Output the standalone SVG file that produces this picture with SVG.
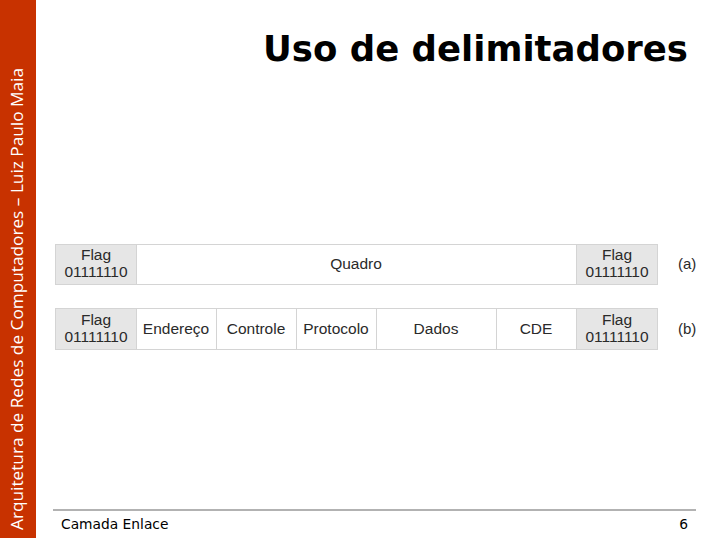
<svg xmlns="http://www.w3.org/2000/svg" width="718" height="538" viewBox="0 0 718 538">
<style>
.cell{stroke:#d4d4d4;stroke-width:1}
.flag{fill:#e6e6e6}
.plain{fill:#ffffff}
.t{font-family:"Liberation Sans",Arial,sans-serif;font-size:15.5px;fill:#2a2a2a;text-anchor:middle}
.lab{font-family:"Liberation Sans",Arial,sans-serif;font-size:15px;fill:#2a2a2a}
</style>
<rect width="718" height="538" fill="#ffffff"/>
<rect x="0" y="0" width="36" height="538" fill="#c83200"/>
<text transform="translate(23,530) rotate(-90)" font-family="'Open Sans',sans-serif" font-size="16" fill="#ffffff" textLength="462" lengthAdjust="spacingAndGlyphs">Arquitetura de Redes de Computadores – Luiz Paulo Maia</text>
<text x="688" y="61" text-anchor="end" font-family="'DejaVu Sans',Verdana,sans-serif" font-weight="bold" font-size="35.5" fill="#000">Uso de delimitadores</text>
<g id="rowA">
<g id="a-flag1"><rect class="cell flag" x="55.5" y="244.5" width="81" height="40"/><text class="t" x="96" y="260">Flag</text><text class="t" x="96" y="277">01111110</text></g>
<g id="a-quadro"><rect class="cell plain" x="136.5" y="244.5" width="440" height="40"/><text class="t" x="356" y="269">Quadro</text></g>
<g id="a-flag2"><rect class="cell flag" x="576.5" y="244.5" width="81" height="40"/><text class="t" x="617" y="260">Flag</text><text class="t" x="617" y="277">01111110</text></g>
<text class="lab" x="678" y="269">(a)</text>
</g>
<g id="rowB">
<g id="b-flag1"><rect class="cell flag" x="55.5" y="308.5" width="81" height="41"/><text class="t" x="96" y="325">Flag</text><text class="t" x="96" y="342">01111110</text></g>
<g id="b-end"><rect class="cell plain" x="136.5" y="308.5" width="80" height="41"/><text class="t" x="176" y="334">Endereço</text></g>
<g id="b-ctl"><rect class="cell plain" x="216.5" y="308.5" width="80" height="41"/><text class="t" x="256" y="334">Controle</text></g>
<g id="b-prot"><rect class="cell plain" x="296.5" y="308.5" width="80" height="41"/><text class="t" x="336" y="334">Protocolo</text></g>
<g id="b-dados"><rect class="cell plain" x="376.5" y="308.5" width="120" height="41"/><text class="t" x="436" y="334">Dados</text></g>
<g id="b-cde"><rect class="cell plain" x="496.5" y="308.5" width="80" height="41"/><text class="t" x="536" y="334">CDE</text></g>
<g id="b-flag2"><rect class="cell flag" x="576.5" y="308.5" width="81" height="41"/><text class="t" x="617" y="325">Flag</text><text class="t" x="617" y="342">01111110</text></g>
<text class="lab" x="678" y="334">(b)</text>
</g>
<g id="connectors"></g>
<line x1="53" y1="510" x2="696" y2="510" stroke="#999" stroke-width="1.5"/>
<text x="61" y="529" font-family="'DejaVu Sans',Verdana,sans-serif" font-size="13.8" fill="#000">Camada Enlace</text>
<text x="688" y="529" text-anchor="end" font-family="'DejaVu Sans',Verdana,sans-serif" font-size="13.8" fill="#000">6</text>
</svg>
